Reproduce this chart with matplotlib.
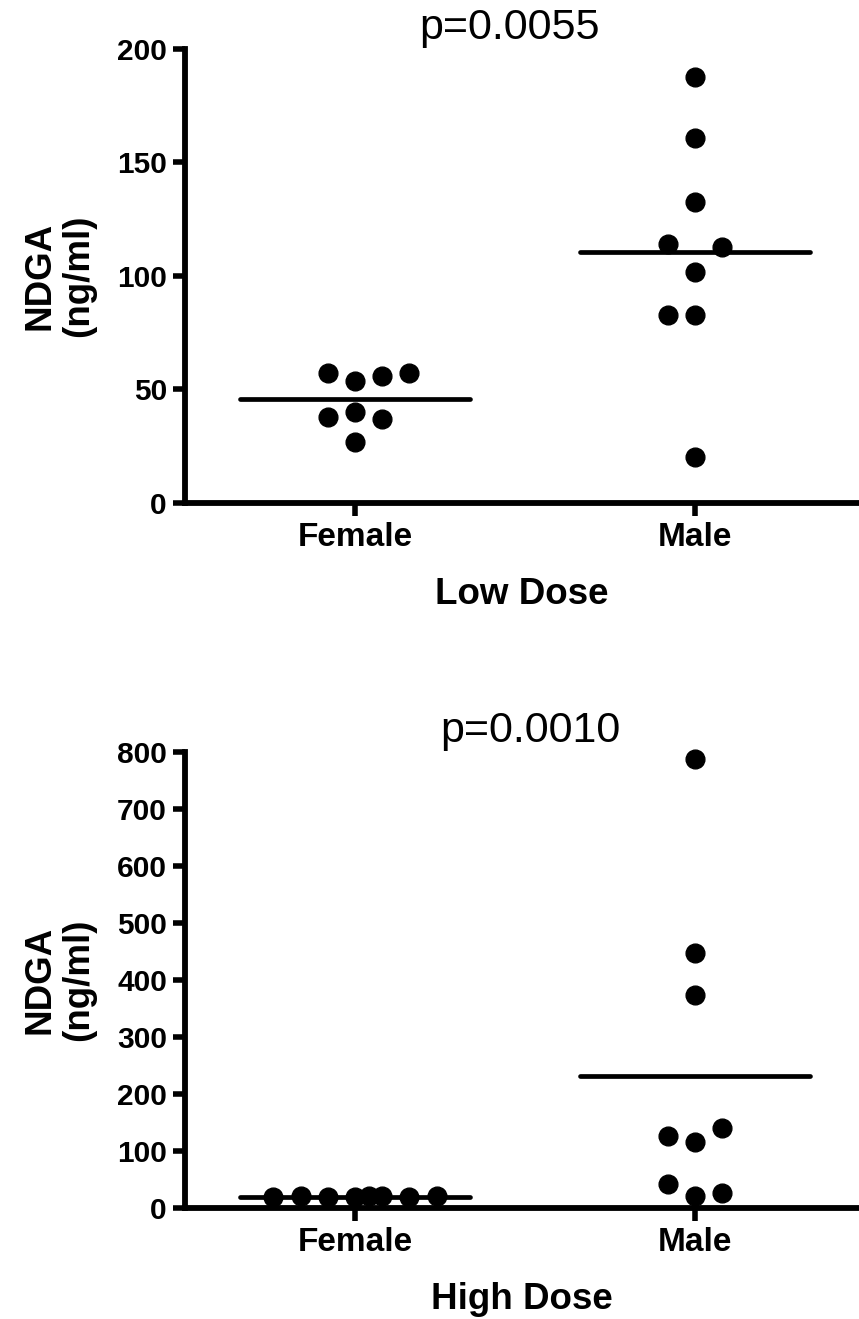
import matplotlib
matplotlib.use("Agg")
import matplotlib.pyplot as plt
import numpy as np

plt.rcParams['font.family'] = ['Liberation Sans', 'DejaVu Sans']

groups = ['Female', 'Male']

# low dose (ng/ml)
low_female = [57.3, 53.7, 56.0, 57.3, 37.9, 40.0, 37.0, 26.9]
low_male = [187.8, 160.6, 132.7, 114.1, 112.6, 101.9, 82.8, 82.8, 20.1]
# high dose (ng/ml)
high_female = [19, 20, 19, 18, 20, 21, 19, 20]
high_male = [788, 447, 373, 125, 115, 140, 42, 21, 25]

p_low = "p=0.0055"
p_high = "p=0.0010"

# horizontal spread of the dots (in dot widths), layout only
low_female_off = [-1, 0, 1, 2, -1, 0, 1, 0]
low_male_off = [0, 0, 0, -1, 1, 0, -1, 0, 0]
high_female_off = [-3, -2, -1, 0, 0.5, 1, 2, 3]
high_male_off = [0, 0, 0, -1, 0, 1, -1, 0, 1]

DOT_STEP = 0.08
HALF_LINE = 0.338


def panel(ax, data, offsets, ymax, ystep, xlabel, ptext, px):
    for i, (vals, offs) in enumerate(zip(data, offsets)):
        xs = i + np.array(offs) * DOT_STEP
        ax.plot(xs, vals, 'o', color='black', markersize=13.5, clip_on=False, zorder=3)
        m = np.mean(vals)
        ax.plot([i - HALF_LINE, i + HALF_LINE], [m, m], color='black', lw=3.4,
                solid_capstyle='round', clip_on=False, zorder=2)
    ax.set_xlim(-0.5, 1.483)
    ax.set_ylim(0, ymax)
    ax.set_yticks(np.arange(0, ymax + 1, ystep))
    ax.set_xticks([0, 1])
    ax.set_xticklabels(groups)
    for s in ['top', 'right']:
        ax.spines[s].set_visible(False)
    for s in ['left', 'bottom']:
        ax.spines[s].set_linewidth(4.2)
        ax.spines[s].set_capstyle('projecting')
    ax.tick_params(width=4, length=9, labelsize=21.5, pad=4)
    for lab in ax.get_xticklabels() + ax.get_yticklabels():
        lab.set_fontweight('bold')
    ax.tick_params(axis='x', labelsize=24, pad=5)
    ax.set_xlabel(xlabel, fontsize=26.5, fontweight='bold', labelpad=17)
    ax.set_ylabel('NDGA\n(ng/ml)', fontsize=26.5, fontweight='bold', labelpad=15,
                  linespacing=1.15)
    ax.text(px, 1.046, ptext, transform=ax.transAxes, ha='center', va='center',
            fontsize=31)


fig = plt.figure(figsize=(8.59, 13.19), dpi=100)
ax1 = fig.add_axes([0.2154, 0.6187, 0.7846, 0.3442])
ax2 = fig.add_axes([0.2154, 0.0844, 0.7846, 0.3455])

panel(ax1, [low_female, low_male], [low_female_off, low_male_off], 200, 50,
      'Low Dose', p_low, 0.482)
panel(ax2, [high_female, high_male], [high_female_off, high_male_off], 800, 100,
      'High Dose', p_high, 0.512)

fig.savefig('out.png', dpi=100)
